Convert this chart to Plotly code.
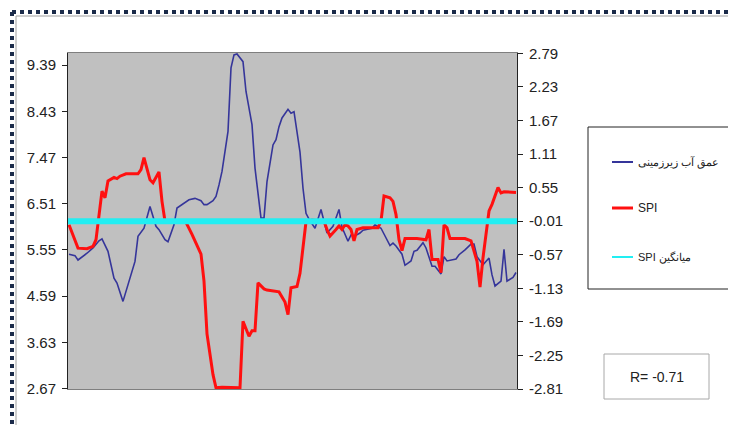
import plotly.graph_objects as go

# groundwater depth (left axis) - time step / value
blue_step = [0, 2, 3, 5, 6, 8, 10, 11, 12, 13, 15, 16, 18, 20, 22, 23, 25, 27, 28, 29,
             30, 32, 33, 35, 36, 38, 40, 42, 44, 45, 46, 48, 49, 50, 51, 53, 54, 55, 56, 58,
             59, 61, 62, 64, 65, 66, 68, 69, 70, 71, 73, 74, 75, 77, 78, 79, 80, 82, 83, 84,
             86, 87, 88, 90, 91, 93, 94, 95, 97, 98, 101, 102, 104, 105, 107, 108, 109, 111, 112, 114,
             115, 116, 118, 119, 121, 122, 124, 125, 126, 129, 130, 132, 134, 135, 136, 138, 140, 141, 142, 144,
             145, 146, 148, 149]
blue_depth = [5.46, 5.43, 5.34, 5.43, 5.48, 5.59, 5.74, 5.78, 5.65, 5.52, 4.96, 4.86, 4.48, 4.89, 5.31, 5.83, 6.00, 6.45, 6.22, 6.04,
              5.97, 5.76, 5.72, 6.07, 6.42, 6.50, 6.59, 6.62, 6.57, 6.49, 6.49, 6.57, 6.66, 6.90, 7.18, 8.01, 9.33, 9.60, 9.62, 9.46,
              8.84, 8.15, 7.25, 6.21, 6.21, 6.97, 7.73, 7.84, 8.11, 8.29, 8.47, 8.39, 8.42, 7.58, 6.83, 6.31, 6.19, 6.00, 6.19, 6.39,
              5.90, 5.96, 6.04, 6.39, 6.02, 5.73, 5.86, 5.83, 5.90, 5.96, 6.00, 6.07, 6.00, 5.88, 5.64, 5.69, 5.63, 5.46, 5.23, 5.32,
              5.52, 5.54, 5.70, 5.59, 5.21, 5.21, 5.05, 5.41, 5.32, 5.36, 5.45, 5.55, 5.67, 5.67, 5.41, 5.24, 5.38, 5.03, 4.80, 4.90,
              5.56, 4.90, 4.98, 5.08]

# SPI (right axis)
red_step = [0, 2, 3, 6, 8, 9, 10, 11, 12, 13, 15, 16, 17, 19, 23, 24, 25, 27, 28, 30,
            31, 32, 34, 39, 41, 43, 44, 45, 46, 48, 49, 51, 54, 57, 58, 60, 61, 62, 63, 65,
            66, 70, 72, 73, 74, 76, 77, 78, 79, 81, 85, 86, 87, 89, 90, 91, 92, 93, 94, 95,
            96, 98, 103, 104, 105, 107, 108, 109, 110, 111, 112, 116, 119, 120, 121, 123, 124, 125, 126, 127,
            132, 134, 136, 137, 138, 140, 141, 143, 144, 145, 149]
red_spi = [-0.07, -0.34, -0.46, -0.47, -0.43, -0.32, 0.10, 0.49, 0.38, 0.66, 0.72, 0.70, 0.74, 0.78, 0.78, 0.85, 1.05, 0.68, 0.63, 0.81,
           0.32, -0.01, 0.00, -0.03, -0.23, -0.46, -0.56, -1.01, -1.89, -2.57, -2.79, -2.78, -2.79, -2.79, -1.68, -1.93, -1.84, -1.84, -1.04, -1.14,
           -1.16, -1.19, -1.36, -1.57, -1.12, -1.10, -0.88, -0.49, -0.02, 0.01, -0.01, -0.15, -0.26, -0.15, -0.09, -0.15, -0.07, -0.09, -0.15, -0.34,
           -0.15, -0.12, -0.12, -0.01, 0.41, 0.38, 0.32, 0.10, -0.32, -0.50, -0.30, -0.30, -0.32, -0.15, -0.65, -0.65, -0.87, -0.07, -0.12, -0.30,
           -0.30, -0.34, -0.68, -1.11, -0.62, 0.16, 0.27, 0.55, 0.46, 0.48, 0.47]

spi_mean = -0.01
r_value = -0.71

left_ticks = [2.67, 3.63, 4.59, 5.55, 6.51, 7.47, 8.43, 9.39]
right_ticks = [2.79, 2.23, 1.67, 1.11, 0.55, -0.01, -0.57, -1.13, -1.69, -2.25, -2.81]

names = ["عمق آب زیرزمینی", "SPI", "SPI میانگین"]
colors = ["#35359a", "#ff1010", "#22eef2"]

# the page body has an 8px margin, so the figure is shifted by that much
OFF = 8
W, H = 736 - OFF, 425 - OFF
# plot area in page pixels
L, R, T, B = 68, 517, 53, 389


def px(x):
    return (x - L) / (R - L)


def py(y):
    return (B - y) / (B - T)


fig = go.Figure()
fig.add_trace(go.Scatter(x=blue_step, y=blue_depth, mode="lines", name=names[0],
                         line=dict(color=colors[0], width=1.6), yaxis="y"))
fig.add_trace(go.Scatter(x=red_step, y=red_spi, mode="lines", name=names[1],
                         line=dict(color=colors[1], width=3), yaxis="y2"))
fig.add_trace(go.Scatter(x=[-0.4, 149.4], y=[spi_mean, spi_mean], mode="lines", name=names[2],
                         line=dict(color=colors[2], width=6), yaxis="y2"))

font = "Liberation Sans, Arial, sans-serif"

fig.update_layout(
    width=W, height=H,
    margin=dict(l=L - OFF, r=736 - R, t=T - OFF, b=425 - B),
    paper_bgcolor="white",
    plot_bgcolor="#c0c0c0",
    showlegend=False,
    font=dict(family=font, size=15, color="#222222"),
    xaxis=dict(range=[-0.33, 149.33], showticklabels=False, ticks="", showgrid=False,
               zeroline=False, showline=True, mirror=True, linecolor="#7f7f7f", linewidth=1),
    yaxis=dict(range=[2.66, 9.64], tickmode="array", tickvals=left_ticks,
               ticktext=[f"{v:.2f}" for v in left_ticks], ticks="outside", ticklen=5,
               tickcolor="#222", showgrid=False, zeroline=False, showline=True,
               linecolor="#222", linewidth=1, ticklabelstandoff=3),
    yaxis2=dict(range=[-2.81, 2.795], overlaying="y", side="right", tickmode="array",
                tickvals=right_ticks, ticktext=[f"{v:.2f}" for v in right_ticks],
                ticks="outside", ticklen=5, tickcolor="#222", showgrid=False, zeroline=False,
                showline=True, linecolor="#222", linewidth=1, ticklabelstandoff=3),
)

shapes = []
annotations = []

# dotted outer frame and thin inner gray frame
frame = dict(color="#1b2b4a", width=4, dash="4px,4px")
shapes.append(dict(type="line", xref="paper", yref="paper", x0=px(12), x1=px(740), y0=py(12), y1=py(12), line=frame))
shapes.append(dict(type="line", xref="paper", yref="paper", x0=px(12), x1=px(12), y0=py(12), y1=py(430), line=frame))
inner = dict(color="#a0a0a0", width=1)
shapes.append(dict(type="line", xref="paper", yref="paper", x0=px(16), x1=px(740), y0=py(16), y1=py(16), line=inner))
shapes.append(dict(type="line", xref="paper", yref="paper", x0=px(16), x1=px(16), y0=py(16), y1=py(430), line=inner))

# legend box
shapes.append(dict(type="rect", xref="paper", yref="paper", x0=px(588), x1=px(733), y0=py(127), y1=py(289),
                   line=dict(color="#222", width=1), fillcolor="white"))
for i, yy in enumerate([162, 208, 257]):
    shapes.append(dict(type="line", xref="paper", yref="paper", x0=px(612), x1=px(633), y0=py(yy), y1=py(yy),
                       line=dict(color=colors[i], width=2 if i != 1 else 3)))
    annotations.append(dict(xref="paper", yref="paper", x=px(636), y=py(yy), text=names[i], showarrow=False,
                            xanchor="left", yanchor="middle", font=dict(size=12 if i == 1 else 11, color="#222")))

# correlation box
shapes.append(dict(type="rect", xref="paper", yref="paper", x0=px(604), x1=px(709), y0=py(354), y1=py(399),
                   line=dict(color="#a8a8a8", width=1), fillcolor="white"))
annotations.append(dict(xref="paper", yref="paper", x=px(656.5), y=py(376.5), text=f"R= {r_value:.2f}",
                        showarrow=False, xanchor="center", yanchor="middle", font=dict(size=14, color="#222")))

fig.update_layout(shapes=shapes, annotations=annotations)

fig.write_html("out.html")
